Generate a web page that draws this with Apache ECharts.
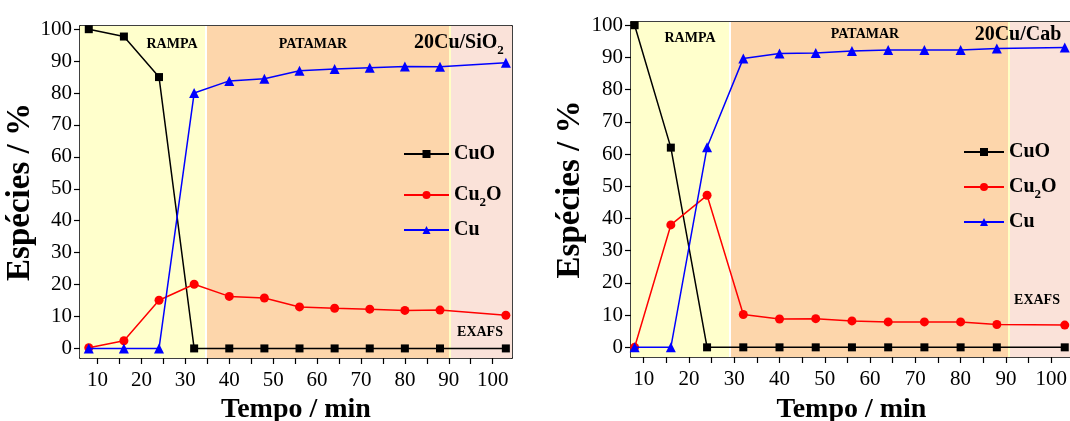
<!DOCTYPE html>
<html><head><meta charset="utf-8">
<script src="https://cdn.jsdelivr.net/npm/echarts@6/dist/echarts.min.js"></script>
<style>html,body{margin:0;padding:0;background:#fff}#c{width:1070px;height:421px}</style>
</head><body><div id="c"></div>
<script>
// ---- data ----
const timesA = [8, 16, 24, 32, 40, 48, 56, 64, 72, 80, 88, 103];
const cuoA  = [100, 97.7, 85, 0, 0, 0, 0, 0, 0, 0, 0, 0];
const cu2oA = [0.2, 2.4, 15.1, 20.1, 16.3, 15.8, 13.0, 12.6, 12.3, 11.9, 12.0, 10.4];
const cuA   = [0, 0, 0, 80.0, 83.8, 84.5, 87.0, 87.5, 87.9, 88.3, 88.2, 89.5];

const timesB = [8, 16, 24, 32, 40, 48, 56, 64, 72, 80, 88, 103];
const cuoB  = [100, 62, 0, 0, 0, 0, 0, 0, 0, 0, 0, 0];
const cu2oB = [0, 38, 47.2, 10.2, 8.8, 8.9, 8.2, 7.9, 7.9, 7.9, 7.1, 6.9];
const cuB   = [0, 0, 62.1, 89.7, 91.2, 91.4, 92.0, 92.3, 92.3, 92.3, 92.8, 93.1];

const xTickLabels = [10, 20, 30, 40, 50, 60, 70, 80, 90, 100];
const xTickMarks = [10, 15, 20, 25, 30, 35, 40, 45, 50, 55, 60, 65, 70, 75, 80, 85, 90, 95, 100];
const yTickLabels = [0, 10, 20, 30, 40, 50, 60, 70, 80, 90, 100];

const regionsA = [6, 34.6, 90.3, 104.4];   // RAMPA | PATAMAR | EXAFS boundaries (min)
const regionsB = [7.2, 29.1, 90.7, 104.6];
const regionNames = ['RAMPA', 'PATAMAR', 'EXAFS'];
const seriesNames = ['CuO', 'Cu2O', 'Cu'];
const sampleNames = ['20Cu/SiO', '20Cu/Cab'];

// ---- styles ----
const FONT = "'Liberation Serif','Times New Roman',serif";
const regionColors = ['#FFFFCC', '#FDD6AB', '#FAE2D9'];
const sepColors = ['#FFFFFF', '#FFFFC4'];
const lineColors = ['#000000', '#FF0000', '#0000FF'];
const symbols = ['rect', 'circle', 'triangle'];
const symbolSizes = [8, 9, 10];

const chart = echarts.init(document.getElementById('c'), null, {renderer: 'canvas'});

function pairs(t, v) { return t.map((x, i) => [x, v[i]]); }

function axesFor(g, xmin, xmax, xGap, yGap) {
  const axLine = {show: true, onZero: false, lineStyle: {color: '#000', width: 1.5}};
  const xs = [
    {type: 'value', gridIndex: g, position: 'bottom', min: xmin, max: xmax,
     axisLine: axLine, splitLine: {show: false},
     axisTick: {show: true, inside: false, length: 6, customValues: xTickMarks, lineStyle: {color: '#000', width: 1.2}},
     axisLabel: {customValues: xTickLabels, fontSize: 21, fontFamily: FONT, color: '#000', margin: 12},
     name: 'Tempo / min', nameLocation: 'middle', nameGap: xGap,
     nameTextStyle: {fontSize: 28, fontWeight: 'bold', fontFamily: FONT, color: '#000'}},
    {type: 'value', gridIndex: g, position: 'top', min: xmin, max: xmax,
     axisLine: axLine, splitLine: {show: false},
     axisTick: {show: true, inside: true, length: 5, customValues: xTickMarks, lineStyle: {color: '#000', width: 1.2}},
     axisLabel: {show: false}}
  ];
  const ys = [
    {type: 'value', gridIndex: g, position: 'left', min: -3, max: 101,
     axisLine: axLine, splitLine: {show: false},
     axisTick: {show: true, inside: false, length: 6, customValues: yTickLabels, lineStyle: {color: '#000', width: 1.2}},
     axisLabel: {customValues: yTickLabels, fontSize: 21, fontFamily: FONT, color: '#000', margin: 8},
     name: 'Espécies / %', nameLocation: 'middle', nameRotate: 90, nameGap: yGap,
     nameTextStyle: {fontSize: 33, fontWeight: 'bold', fontFamily: FONT, color: '#000'}},
    {type: 'value', gridIndex: g, position: 'right', min: -3, max: 101,
     axisLine: axLine, splitLine: {show: false},
     axisTick: {show: true, inside: true, length: 5, customValues: yTickLabels, lineStyle: {color: '#000', width: 1.2}},
     axisLabel: {show: false}}
  ];
  return {xs, ys};
}

const A = axesFor(0, regionsA[0], regionsA[3], 33, 39);
const B = axesFor(1, regionsB[0], regionsB[3], 39, 44);

function seriesFor(g, t, vals, regions) {
  return vals.map((v, k) => {
    const s = {
      name: seriesNames[k], type: 'line', xAxisIndex: g * 2, yAxisIndex: g * 2,
      data: pairs(t, v), symbol: symbols[k], symbolSize: symbolSizes[k],
      lineStyle: {color: lineColors[k], width: 1.5},
      itemStyle: {color: lineColors[k]}, z: 3 + k, animation: false
    };
    if (k === 0) {
      s.markArea = {silent: true, z: 1, data: regionNames.map((n, i) => [
        {xAxis: regions[i], itemStyle: {color: regionColors[i]}},
        {xAxis: regions[i + 1]}])};
      s.markLine = {silent: true, symbol: 'none', label: {show: false}, z: 2, animation: false,
        data: [
          {xAxis: regions[1], lineStyle: {color: sepColors[0], width: 2, type: 'solid'}},
          {xAxis: regions[2], lineStyle: {color: sepColors[1], width: 2, type: 'solid'}}]};
    }
    return s;
  });
}

const legendRich = {
  n: {fontSize: 20, fontWeight: 'bold', fontFamily: FONT, color: '#000', verticalAlign: 'top', lineHeight: 20},
  s: {fontSize: 13, fontWeight: 'bold', fontFamily: FONT, color: '#000', verticalAlign: 'top', lineHeight: 13, padding: [11, 0, 0, 0]}
};
function legendFor(name, left, top, w) {
  return {
    data: [name], left: left, top: top, orient: 'vertical', padding: 0,
    itemWidth: w, itemHeight: 10, selectedMode: false,
    textStyle: {fontSize: 20, fontWeight: 'bold', fontFamily: FONT, color: '#000', rich: legendRich},
    formatter: nm => nm === 'Cu2O' ? '{n|Cu}{s|2}{n|O}' : nm
  };
}

function txt(x, y, text, size, align) {
  return {type: 'text', x: x, y: y, z: 100, silent: true,
    style: {text: text, fontSize: size, fontWeight: 'bold', fontFamily: FONT, fill: '#000',
      align: align || 'center', verticalAlign: 'middle'}};
}

const option = {
  backgroundColor: '#fff',
  animation: false,
  grid: [
    {left: 80, top: 26, width: 432, height: 332, containLabel: false, outerBoundsMode: 'none'},
    {left: 631, top: 22, width: 441, height: 335, containLabel: false, outerBoundsMode: 'none'}
  ],
  xAxis: [...A.xs, ...B.xs],
  yAxis: [...A.ys, ...B.ys],
  legend: [
    legendFor('CuO', 403, 144, 45), legendFor('Cu2O', 403, 185, 45), legendFor('Cu', 403, 220, 45),
    legendFor('CuO', 963, 142, 40), legendFor('Cu2O', 963, 177, 40), legendFor('Cu', 963, 212, 40)
  ],
  series: [
    ...seriesFor(0, timesA, [cuoA, cu2oA, cuA], regionsA),
    ...seriesFor(1, timesB, [cuoB, cu2oB, cuB], regionsB)
  ],
  graphic: [
    txt(172, 44, regionNames[0], 14), txt(313, 44, regionNames[1], 14), txt(480, 332, regionNames[2], 14),
    {type: 'text', x: 414, y: 33, z: 100, silent: true,
      style: {text: '{n|' + sampleNames[0] + '}{s|2}', align: 'left', verticalAlign: 'top',
        rich: {n: {fontSize: 20, fontWeight: 'bold', fontFamily: FONT, fill: '#000', verticalAlign: 'top', lineHeight: 20},
               s: {fontSize: 13, fontWeight: 'bold', fontFamily: FONT, fill: '#000', verticalAlign: 'top', lineHeight: 13, padding: [11, 0, 0, 0]}}}},
    txt(690, 38, regionNames[0], 14), txt(865, 34, regionNames[1], 14), txt(1037, 300, regionNames[2], 14),
    txt(1018, 35, sampleNames[1], 20)
  ]
};
chart.setOption(option);
</script></body></html>
